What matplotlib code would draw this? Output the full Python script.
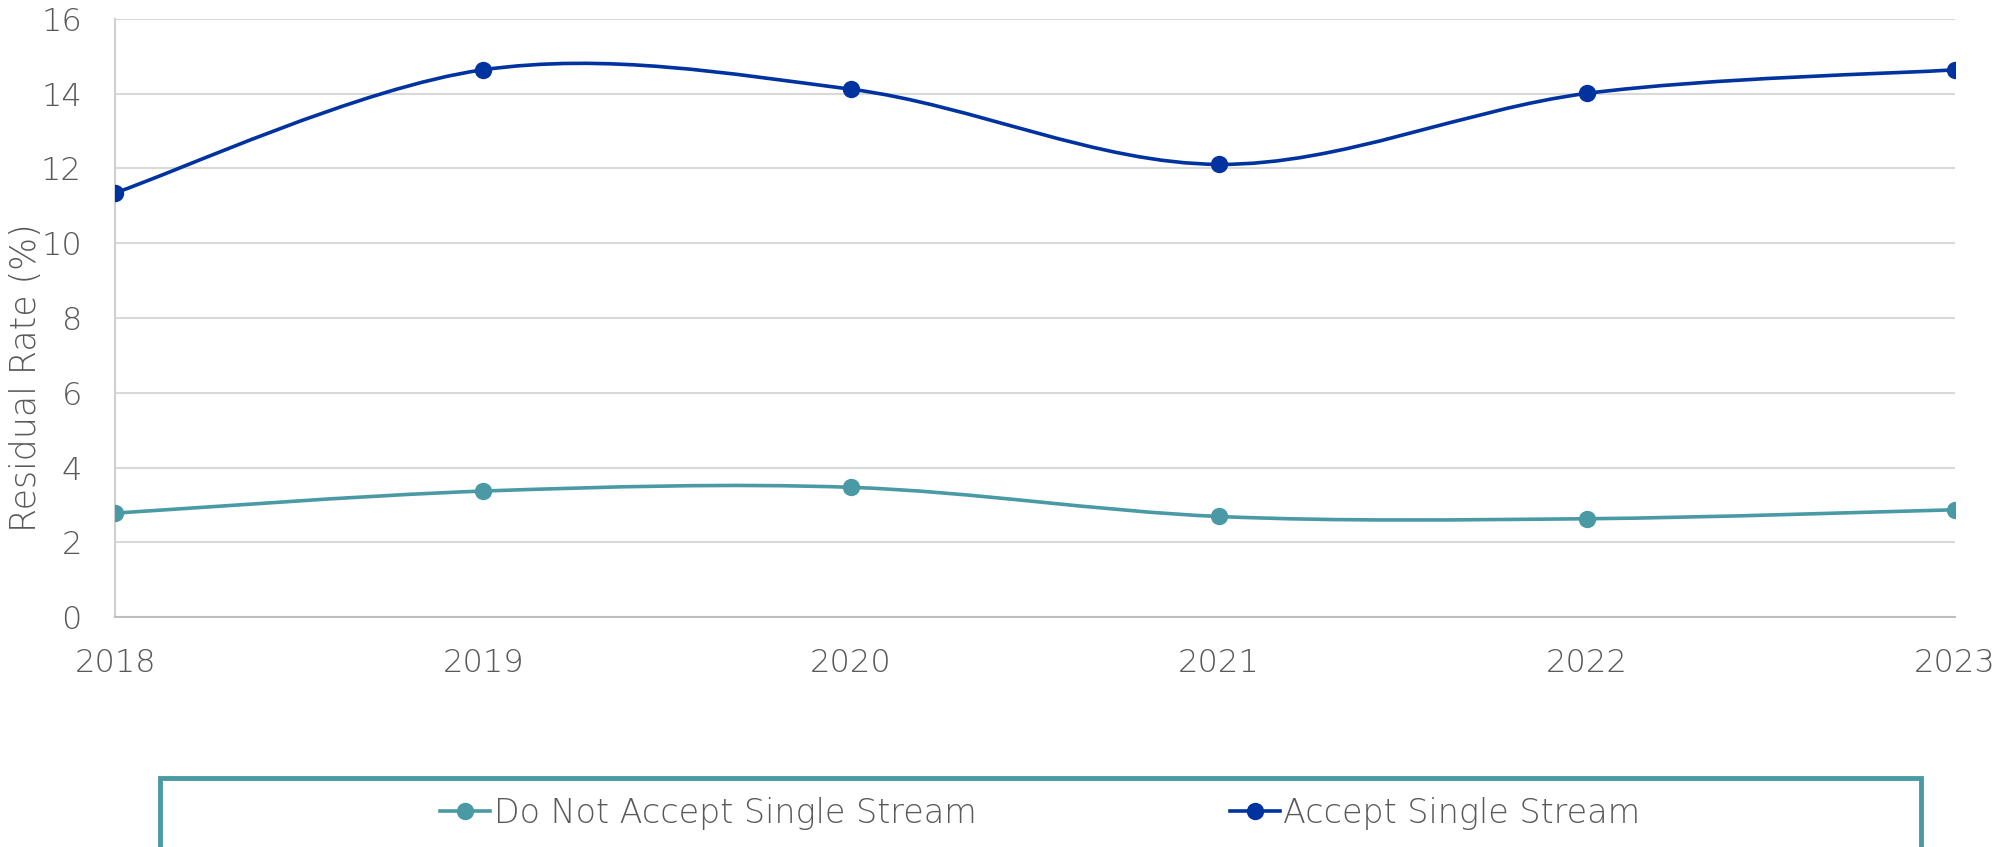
import numpy as np
import matplotlib
matplotlib.use('Agg')
import matplotlib.pyplot as plt
from matplotlib.path import Path
from matplotlib.patches import PathPatch, Rectangle
from matplotlib.lines import Line2D

plt.rcParams['font.family'] = ['DejaVu Sans']
plt.rcParams['font.weight'] = 'light'
plt.rcParams['axes.labelweight'] = 'light'

# data
years = ['2018', '2019', '2020', '2021', '2022', '2023']
not_accept = [2.78, 3.37, 3.47, 2.69, 2.63, 2.87]
accept = [11.35, 14.64, 14.12, 12.11, 14.01, 14.64]
series_names = ['Do Not Accept Single Stream', 'Accept Single Stream']

teal = '#4A9AA5'
blue = '#0033A0'
grey_txt = '#595959'


def smooth_path(xs, ys):
    # excel-like smoothed line: catmull-rom turned into cubic beziers
    pts = np.column_stack([xs, ys]).astype(float)
    n = len(pts)
    verts = [pts[0]]
    codes = [Path.MOVETO]
    for i in range(n - 1):
        p0 = pts[i - 1] if i > 0 else pts[i]
        p1 = pts[i]
        p2 = pts[i + 1]
        p3 = pts[i + 2] if i + 2 < n else pts[i + 1]
        c1 = p1 + (p2 - p0) / 6.0
        c2 = p2 - (p3 - p1) / 6.0
        verts += [c1, c2, p2]
        codes += [Path.CURVE4] * 3
    return Path(verts, codes)


fig = plt.figure(figsize=(20.12, 8.47), dpi=100)
ax = fig.add_axes([0.0572, 0.2715, 0.9145, 0.7061])

x = np.arange(len(years))
for vals, col in [(not_accept, teal), (accept, blue)]:
    ax.add_patch(PathPatch(smooth_path(x, vals), facecolor='none',
                           edgecolor=col, lw=2.6, zorder=3))
    ax.plot(x, vals, ls='none', marker='o', ms=11.5, color=col, zorder=4)

ax.set_xlim(0, len(years) - 1)
ax.set_ylim(0, 16)
ax.set_yticks(range(0, 17, 2))
ax.set_xticks(x)
ax.set_xticklabels(years)
ax.grid(axis='y', color='#D9D9D9', lw=1.5)
ax.set_axisbelow(True)
for s in ['top', 'right']:
    ax.spines[s].set_visible(False)
ax.spines['bottom'].set_color('#BFBFBF')
ax.spines['left'].set_color('#D0D0D0')
ax.spines['bottom'].set_linewidth(1.5)
ax.spines['left'].set_linewidth(1.5)
ax.tick_params(axis='both', length=0, labelsize=23, labelcolor=grey_txt)
ax.tick_params(axis='x', pad=22)
ax.tick_params(axis='y', pad=24)
ax.set_ylabel('Residual Rate (%)', fontsize=25, color=grey_txt, fontweight='light')
ax.yaxis.set_label_coords(-0.039, 0.40)

# legend box (runs off the bottom edge)
fig.patches.append(Rectangle((160 / 2012, -0.05), (1921 - 160) / 2012, 0.05 + (847 - 778) / 847,
                             transform=fig.transFigure, facecolor='none',
                             edgecolor=teal, lw=3.5, clip_on=False))
handles = [Line2D([], [], color=teal, lw=2.6, marker='o', ms=11.5),
           Line2D([], [], color=blue, lw=2.6, marker='o', ms=11.5)]
leg = fig.legend(handles, series_names, loc='center', bbox_to_anchor=(0.517, 0.04),
                 ncol=2, frameon=False, fontsize=24, handlelength=1.5,
                 handletextpad=0.1, columnspacing=7.6)
for t in leg.get_texts():
    t.set_color(grey_txt)

fig.savefig('out.png', dpi=100)
